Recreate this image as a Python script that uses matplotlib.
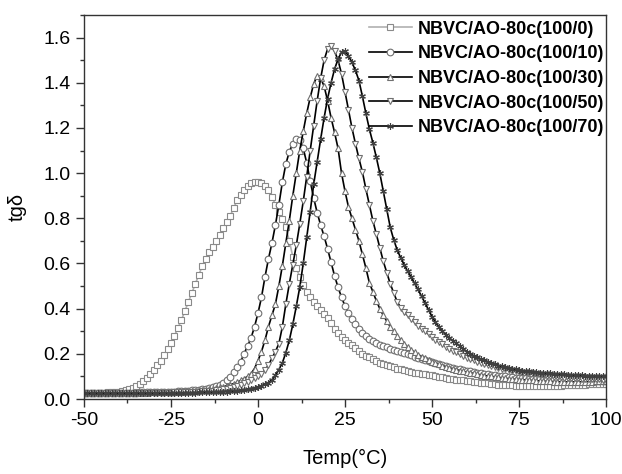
import numpy as np
import matplotlib
matplotlib.use("Agg")
import matplotlib.pyplot as plt
from matplotlib.ticker import MultipleLocator

plt.rcParams['font.family'] = ['Liberation Sans', 'DejaVu Sans']
plt.rcParams['axes.unicode_minus'] = False

# temperature grid, 1 degC steps from -50 to 100
temp = np.arange(-50, 101, 1)

labels = ['NBVC/AO-80c(100/0)', 'NBVC/AO-80c(100/10)', 'NBVC/AO-80c(100/30)',
          'NBVC/AO-80c(100/50)', 'NBVC/AO-80c(100/70)']

tg_100_0 = [
    .025, .025, .025, .026, .026, .027, .028, .029, .030, .031,
    .033, .035, .038, .043, .050, .057, .066, .078, .092, .110,
    .130, .150, .170, .195, .220, .250, .280, .315, .350, .390,
    .430, .470, .510, .550, .590, .620, .650, .675, .700, .728,
    .755, .782, .810, .845, .880, .905, .925, .942, .955, .960,
    .962, .958, .945, .925, .895, .860, .830, .795, .760, .700,
    .630, .580, .540, .505, .475, .450, .430, .412, .395, .378,
    .360, .335, .310, .290, .275, .262, .250, .237, .225, .212,
    .200, .192, .184, .176, .168, .160, .155, .150, .145, .140,
    .135, .131, .127, .123, .119, .115, .113, .111, .109, .107,
    .105, .102, .099, .096, .093, .090, .088, .086, .084, .082,
    .080, .078, .076, .074, .072, .070, .069, .067, .066, .064,
    .063, .062, .061, .060, .059, .058, .058, .057, .057, .057,
    .057, .057, .057, .057, .057, .058, .058, .059, .060, .061,
    .062, .062, .063, .063, .064, .065, .065, .066, .066, .067,
    .068]

tg_100_10 = [
    .025, .025, .025, .025, .026, .026, .026, .026, .027, .027,
    .027, .027, .028, .028, .028, .028, .029, .029, .029, .030,
    .030, .030, .031, .031, .032, .032, .033, .034, .035, .036,
    .037, .038, .040, .042, .044, .046, .049, .053, .057, .062,
    .070, .082, .098, .118, .140, .165, .200, .235, .270, .320,
    .380, .450, .540, .620, .690, .770, .860, .960, 1.040, 1.095,
    1.130, 1.150, 1.145, 1.110, 1.045, .965, .890, .825, .770, .720,
    .665, .605, .545, .495, .450, .412, .380, .352, .330, .310,
    .292, .278, .266, .256, .248, .241, .235, .229, .223, .218,
    .213, .208, .203, .198, .193, .188, .183, .178, .173, .168,
    .163, .158, .154, .150, .146, .142, .138, .135, .132, .129,
    .126, .123, .120, .117, .114, .112, .110, .108, .106, .104,
    .102, .100, .098, .096, .094, .093, .092, .091, .090, .089,
    .088, .087, .086, .085, .084, .083, .082, .081, .080, .080,
    .079, .079, .078, .078, .078, .078, .078, .079, .079, .080,
    .080]

tg_100_30 = [
    .025, .025, .025, .025, .025, .025, .026, .026, .026, .026,
    .026, .027, .027, .027, .027, .028, .028, .028, .028, .029,
    .029, .029, .030, .030, .031, .031, .032, .032, .033, .034,
    .035, .036, .037, .038, .040, .041, .043, .045, .048, .051,
    .054, .058, .063, .068, .074, .082, .090, .100, .112, .135,
    .170, .210, .260, .320, .370, .420, .500, .590, .690, .790,
    .900, 1.000, 1.100, 1.185, 1.265, 1.335, 1.395, 1.430, 1.420, 1.385,
    1.320, 1.245, 1.180, 1.110, 1.000, .920, .850, .800, .750, .700,
    .640, .580, .515, .475, .435, .400, .370, .345, .320, .300,
    .280, .262, .245, .230, .218, .207, .197, .188, .180, .172,
    .165, .159, .153, .148, .143, .138, .134, .130, .126, .122,
    .119, .116, .113, .110, .107, .104, .102, .100, .098, .096,
    .094, .092, .090, .088, .087, .086, .085, .084, .083, .082,
    .081, .080, .079, .078, .078, .077, .077, .076, .076, .076,
    .076, .076, .076, .076, .077, .077, .077, .078, .078, .079,
    .079]

tg_100_50 = [
    .025, .025, .025, .025, .025, .025, .025, .025, .025, .025,
    .025, .025, .026, .026, .026, .026, .026, .026, .027, .027,
    .027, .027, .027, .028, .028, .028, .029, .029, .030, .030,
    .031, .031, .032, .033, .034, .035, .036, .037, .039, .041,
    .043, .046, .049, .053, .058, .064, .070, .076, .083, .091,
    .100, .112, .128, .150, .180, .210, .245, .320, .420, .510,
    .595, .680, .775, .875, .985, 1.100, 1.210, 1.320, 1.420, 1.500,
    1.550, 1.562, 1.540, 1.500, 1.440, 1.360, 1.280, 1.200, 1.130, 1.065,
    1.005, .930, .860, .790, .730, .670, .610, .560, .510, .470,
    .430, .405, .385, .370, .355, .340, .325, .312, .300, .287,
    .275, .263, .252, .242, .232, .223, .214, .206, .198, .190,
    .183, .177, .171, .165, .160, .155, .150, .146, .142, .138,
    .134, .131, .128, .125, .122, .119, .117, .115, .113, .111,
    .109, .107, .105, .103, .101, .099, .097, .096, .095, .094,
    .093, .092, .091, .090, .089, .088, .088, .087, .087, .086,
    .086]

tg_100_70 = [
    .025, .025, .025, .025, .025, .025, .025, .025, .025, .025,
    .025, .025, .025, .025, .025, .025, .026, .026, .026, .026,
    .026, .026, .026, .026, .027, .027, .027, .027, .027, .028,
    .028, .028, .028, .029, .029, .029, .030, .030, .031, .031,
    .032, .033, .034, .035, .037, .039, .041, .043, .046, .050,
    .054, .059, .065, .073, .085, .105, .130, .160, .205, .260,
    .330, .410, .495, .600, .715, .830, .950, 1.050, 1.150, 1.245,
    1.330, 1.400, 1.460, 1.505, 1.535, 1.540, 1.520, 1.490, 1.455, 1.410,
    1.340, 1.265, 1.195, 1.135, 1.070, 1.000, .920, .840, .760, .705,
    .660, .625, .595, .565, .540, .512, .485, .455, .425, .395,
    .365, .340, .318, .300, .285, .270, .258, .246, .234, .222,
    .210, .200, .192, .185, .178, .172, .166, .160, .154, .148,
    .144, .140, .137, .134, .131, .128, .126, .124, .122, .120,
    .118, .116, .115, .114, .113, .112, .111, .110, .109, .108,
    .107, .106, .105, .105, .104, .104, .103, .103, .102, .102,
    .102]

series = [tg_100_0, tg_100_10, tg_100_30, tg_100_50, tg_100_70]
markers = ['s', 'o', '^', 'v', (6, 2, 0)]
line_colors = ['#b0b0b0', 'black', 'black', 'black', 'black']
marker_colors = ['#8a8a8a', '#707070', '#707070', '#707070', '#404040']

fig = plt.figure(figsize=(6.22, 4.74), dpi=100)
ax = fig.add_axes([84 / 622, 75 / 474, 522 / 622, 384 / 474])

for y, lab, m, lc, mc in zip(series, labels, markers, line_colors, marker_colors):
    ax.plot(temp, y, color=lc, lw=1.2, marker=m, ms=4.8, mfc='white',
            mec=mc, mew=0.8, label=lab)

ax.set_xlim(-50, 100)
ax.set_ylim(0, 1.7)
ax.xaxis.set_major_locator(MultipleLocator(25))
ax.xaxis.set_minor_locator(MultipleLocator(12.5))
ax.yaxis.set_major_locator(MultipleLocator(0.2))
ax.yaxis.set_minor_locator(MultipleLocator(0.1))
ax.yaxis.set_major_formatter(plt.FuncFormatter(lambda v, p: f'{v:.1f}'))
ax.tick_params(which='both', direction='out', top=False, right=False,
               labelsize=14, color='#333333')
ax.tick_params(which='major', length=6, width=1)
ax.tick_params(which='minor', length=3, width=1)
for s in ax.spines.values():
    s.set_linewidth(1.0)
    s.set_color('#333333')

ax.set_xlabel('Temp(°C)', fontsize=14.5, labelpad=14)
ax.set_ylabel('tgδ', fontsize=14.5, labelpad=12)

leg = ax.legend(loc='upper right', bbox_to_anchor=(0.996, 0.985), frameon=False,
                prop={'weight': 'bold', 'size': 13}, numpoints=1,
                handlelength=2.4, handletextpad=0.3, labelspacing=0.42,
                borderaxespad=0, borderpad=0)

fig.savefig('out.png', dpi=100)
